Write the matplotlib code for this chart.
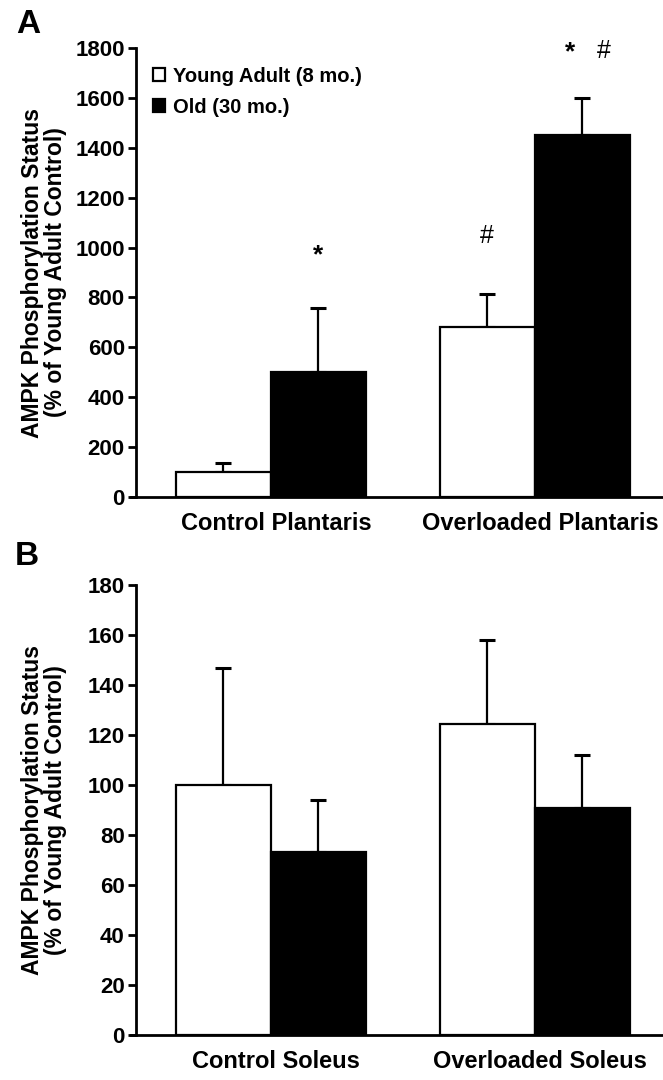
import matplotlib
matplotlib.use("Agg")
import matplotlib.pyplot as plt
from matplotlib.patches import Patch
import numpy as np

plt.rcParams['font.family'] = ['Liberation Sans', 'DejaVu Sans']
plt.rcParams['font.weight'] = 'bold'

# ---- data ----
groups_a = ["Control Plantaris", "Overloaded Plantaris"]
young_a = [100, 680]
young_a_err = [35, 133]
old_a = [500, 1450]
old_a_err = [258, 150]

groups_b = ["Control Soleus", "Overloaded Soleus"]
young_b = [100, 124.5]
young_b_err = [47, 33.5]
old_b = [73, 91]
old_b_err = [21, 21]

yticks_a = [0, 200, 400, 600, 800, 1000, 1200, 1400, 1600, 1800]
yticks_b = [0, 20, 40, 60, 80, 100, 120, 140, 160, 180]

series_labels = ["Young Adult (8 mo.)", "Old (30 mo.)"]
ylabel = "AMPK Phosphorylation Status\n(% of Young Adult Control)"

fig = plt.figure(figsize=(6.63, 10.8), dpi=100)
axA = fig.add_axes([0.205, 0.5398, 0.795, 0.4157])
axB = fig.add_axes([0.205, 0.0417, 0.795, 0.4166])

W = 0.36
def draw(ax, young, yerr, old, oerr, groups, yticks):
    x = np.arange(len(groups))
    ax.bar(x - W/2, young, W, color='white', edgecolor='black', linewidth=1.6, zorder=2)
    ax.bar(x + W/2, old, W, color='black', edgecolor='black', linewidth=1.6, zorder=2)
    ax.errorbar(x - W/2, young, yerr=[np.zeros(len(x)), yerr], fmt='none',
                ecolor='black', elinewidth=1.6, capsize=6, capthick=2.2, zorder=1)
    ax.errorbar(x + W/2, old, yerr=[np.zeros(len(x)), oerr], fmt='none',
                ecolor='black', elinewidth=1.6, capsize=6, capthick=2.2, zorder=1)
    ax.set_xlim(-0.51, 1.485)
    ax.set_ylim(0, yticks[-1])
    ax.set_yticks(yticks)
    ax.set_xticks([])
    for s in ['top', 'right']:
        ax.spines[s].set_visible(False)
    ax.spines['left'].set_linewidth(2)
    ax.spines['bottom'].set_linewidth(2)
    ax.spines['bottom'].set_bounds(-0.53, 1.485)
    ax.tick_params(axis='y', length=6, width=2, labelsize=16, pad=2)
    for lab in ax.get_yticklabels():
        lab.set_fontweight('bold')
    for xi, g in zip(x, groups):
        ax.text(xi + 0.02, -0.058, g, transform=ax.get_xaxis_transform(),
                ha='center', va='center', fontsize=17, fontweight='bold', clip_on=False)
    ax.set_ylabel(ylabel, fontsize=16.5, fontweight='bold', linespacing=1.0)
    ax.yaxis.set_label_coords(-0.131, 0.5)
    ax.patch.set_alpha(0)
    return x

xa = draw(axA, young_a, young_a_err, old_a, old_a_err, groups_a, yticks_a)
xb = draw(axB, young_b, young_b_err, old_b, old_b_err, groups_b, yticks_b)
axA.spines['left'].set_bounds(0, 1800)
axB.spines['left'].set_bounds(0, 180)

# significance markers
axA.text(xa[0] + W/2, 920, "*", ha='center', va='bottom', fontsize=19, fontweight='bold')
axA.text(xa[1] - W/2, 998, "#", ha='center', va='bottom', fontsize=18, fontweight='normal')
axA.text(xa[1] + W/2 - 0.045, 1735, "*", ha='center', va='bottom', fontsize=19, fontweight='bold', clip_on=False)
axA.text(xa[1] + W/2 + 0.08, 1740, "#", ha='center', va='bottom', fontsize=18, fontweight='normal', clip_on=False)

handles = [Patch(facecolor='white', edgecolor='black', linewidth=1.6),
           Patch(facecolor='black', edgecolor='black', linewidth=1.6)]
axA.legend(handles, series_labels, loc='upper left', bbox_to_anchor=(0.01, 0.985),
           frameon=False, handlelength=0.6, handleheight=0.6,
           handletextpad=0.4, labelspacing=0.6, borderaxespad=0.2,
           prop={'weight': 'bold', 'size': 14.5})

fig.text(0.025, 0.977, "A", fontsize=24, fontweight='bold', ha='left', va='center')
fig.text(0.022, 0.485, "B", fontsize=24, fontweight='bold', ha='left', va='center')

fig.savefig("out.png", dpi=100, facecolor='white')
